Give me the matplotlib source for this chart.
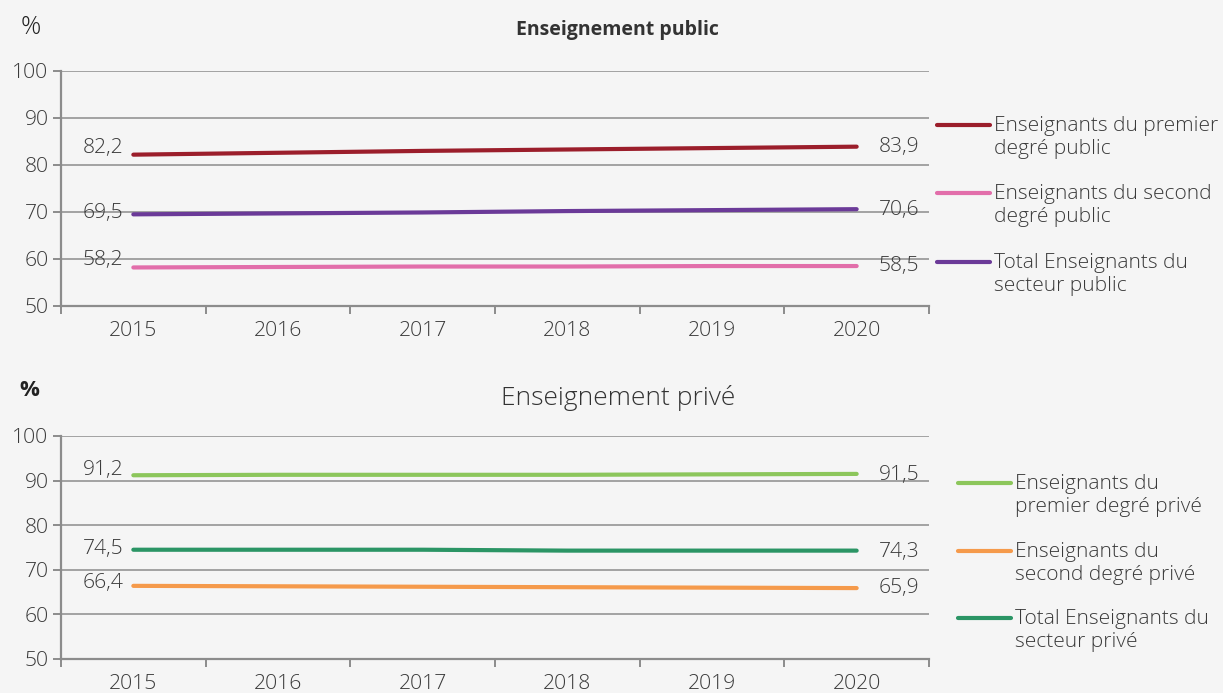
import matplotlib

matplotlib.use("Agg")
import matplotlib.pyplot as plt  # noqa: E402

YEARS = ["2015", "2016", "2017", "2018", "2019", "2020"]

# Public sector shares (%)
PUB_PREMIER = [82.2, 82.6, 83.0, 83.3, 83.6, 83.9]
PUB_SECOND = [58.2, 58.3, 58.4, 58.4, 58.5, 58.5]
PUB_TOTAL = [69.5, 69.7, 69.9, 70.2, 70.4, 70.6]

# Private sector shares (%)
PRIV_PREMIER = [91.2, 91.3, 91.3, 91.3, 91.4, 91.5]
PRIV_SECOND = [66.4, 66.3, 66.2, 66.1, 66.0, 65.9]
PRIV_TOTAL = [74.5, 74.5, 74.5, 74.3, 74.3, 74.3]

PUB_LABELS = ["Enseignants du premier\ndegré public",
              "Enseignants du second\ndegré public",
              "Total Enseignants du\nsecteur public"]
PRIV_LABELS = ["Enseignants du\npremier degré privé",
               "Enseignants du\nsecond degré privé",
               "Total Enseignants du\nsecteur privé"]

PUB_COLORS = ["#9b1e2b", "#e26eaa", "#6b3a98"]
PRIV_COLORS = ["#8cc65b", "#f59a4b", "#2b9565"]

BG = "#f5f5f5"
TXT = "#3a3a3a"
GRID = "#8c8c8c"
FS = 15.2

plt.rcParams["font.family"] = ["Open Sans", "DejaVu Sans"]
plt.rcParams["font.weight"] = "light"

W, H = 1223, 693
fig = plt.figure(figsize=(W / 100, H / 100), dpi=100, facecolor=BG)


def px_axes(x0, y0, x1, y1):
    """Axes from pixel box (top-left origin)."""
    return fig.add_axes([x0 / W, 1 - y1 / H, (x1 - x0) / W, (y1 - y0) / H])


def fy(y):
    return 1 - y / H


def draw_panel(ax, series, colors, left_dy, right_dy):
    ax.set_facecolor(BG)
    n = len(YEARS)
    xs = list(range(n))
    ax.set_xlim(-0.5, n - 0.5)
    ax.set_ylim(50, 100)
    for yv in range(60, 101, 10):
        ax.axhline(yv, color=GRID, lw=1.1, zorder=1)
    for vals, c in zip(series, colors):
        ax.plot(xs, vals, color=c, lw=3.0, solid_capstyle="round", zorder=3)
    for vals, dl, dr in zip(series, left_dy, right_dy):
        ax.annotate(f"{vals[0]:.1f}".replace(".", ","), (xs[0], vals[0]),
                    xytext=(-10, dl), textcoords="offset pixels",
                    ha="right", va="center", fontsize=FS, color=TXT)
        ax.annotate(f"{vals[-1]:.1f}".replace(".", ","), (xs[-1], vals[-1]),
                    xytext=(22, dr), textcoords="offset pixels",
                    ha="left", va="center", fontsize=FS, color=TXT)
    for s in ("top", "right"):
        ax.spines[s].set_visible(False)
    for s in ("left", "bottom"):
        ax.spines[s].set_color(GRID)
        ax.spines[s].set_linewidth(1.6)
    ax.set_yticks(range(50, 101, 10))
    ax.set_xticks([i - 0.5 for i in range(n + 1)])
    ax.set_xticklabels([])
    ax.set_xticks(xs, minor=True)
    ax.set_xticklabels(YEARS, minor=True)
    ax.tick_params(axis="x", which="major", length=6, width=1.4, color=GRID)
    ax.tick_params(axis="x", which="minor", length=0, pad=11,
                   labelsize=FS, labelcolor=TXT)
    ax.tick_params(axis="y", length=6, width=1.4, color=GRID, pad=3,
                   labelsize=FS, labelcolor=TXT)


def draw_legend(labels, colors, x0, x1, ys):
    for lab, c, y in zip(labels, colors, ys):
        fig.add_artist(plt.Line2D([x0 / W, x1 / W], [fy(y), fy(y)], color=c,
                                  lw=3.0, solid_capstyle="round"))
        fig.text((x1 + 4) / W, fy(y + 12.5), lab, ha="left", va="center",
                 fontsize=15, color=TXT, linespacing=1.25)


# Public panel
ax1 = px_axes(61, 71, 929, 306)
draw_panel(ax1, [PUB_PREMIER, PUB_SECOND, PUB_TOTAL], PUB_COLORS,
           left_dy=[7, 7, 1], right_dy=[0, 0, -1])
fig.text(617 / W, fy(30), "Enseignement public", ha="center", va="center",
         fontsize=14, fontweight="bold", color="#333333")
fig.text(31 / W, fy(27), "%", ha="center", va="center", fontsize=18, color="#222222")
draw_legend(PUB_LABELS, PUB_COLORS, 937, 990, [125, 193, 262])

# Private panel
ax2 = px_axes(61, 436, 929, 659)
draw_panel(ax2, [PRIV_PREMIER, PRIV_SECOND, PRIV_TOTAL], PRIV_COLORS,
           left_dy=[5, 3, 1], right_dy=[-1, 0, -1])
fig.text(618 / W, fy(398), "Enseignement privé", ha="center", va="center",
         fontsize=19, color="#333333")
fig.text(29 / W, fy(390), "%", ha="center", va="center", fontsize=16,
         fontweight="bold", color="#222222")
draw_legend(PRIV_LABELS, PRIV_COLORS, 958, 1011, [483, 551, 618])

fig.savefig("out.png", dpi=100, facecolor=BG)
